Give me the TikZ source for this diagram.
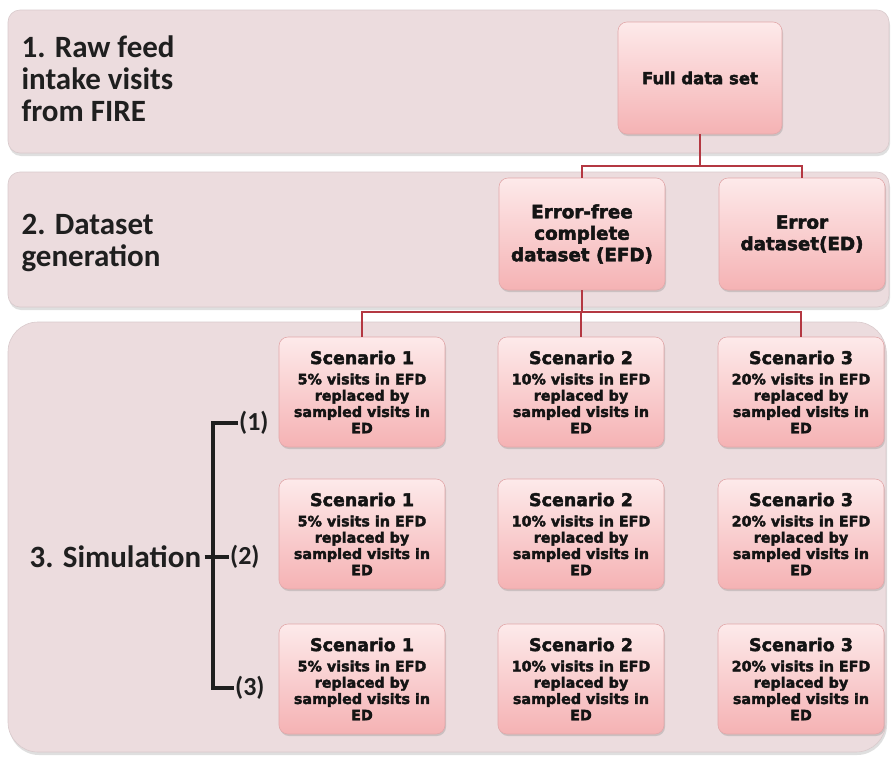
\documentclass[tikz,border=0pt]{standalone}
\usepackage{fontspec}
\newfontfamily\labelfont{Carlito}
\newfontfamily\boxfont{DejaVu Sans}[BoldFeatures={FakeBold=2.6}]
\usetikzlibrary{shadows}

\definecolor{panelfill}{RGB}{236,220,222}
\definecolor{boxtop}{RGB}{253,234,234}
\definecolor{boxbottom}{RGB}{245,178,180}
\definecolor{boxline}{RGB}{226,168,170}
\definecolor{linkred}{RGB}{180,56,66}

\tikzset{
  panel/.style={fill=panelfill, draw=panelfill!92!black, line width=0.6,
    drop shadow={shadow xshift=1pt, shadow yshift=-3pt, opacity=0.25}},
  stagelabel/.style={anchor=west, align=left, font=\labelfont\bfseries\fontsize{31}{32}\selectfont, text=black!88},
  datbox/.style={rounded corners=9, top color=boxtop, bottom color=boxbottom, draw=boxline,
    line width=0.6, align=center, minimum width=166, minimum height=112, inner sep=2,
    drop shadow={shadow xshift=1pt, shadow yshift=-2pt, opacity=0.3},
    font=\boxfont\bfseries\fontsize{18.3}{21.5}\selectfont, text=black!92},
  scenbox/.style={datbox, minimum height=110, font=\boxfont\bfseries\fontsize{14.3}{16.3}\selectfont},
  link/.style={linkred, line width=2},
  runlabel/.style={font=\labelfont\bfseries\fontsize{26}{28}\selectfont, inner sep=1, text=black!88},
  bracket/.style={black!88, line width=3.2}
}

\begin{document}
\begin{tikzpicture}[x=1pt, y=-1pt]
\useasboundingbox (0,0) rectangle (892,761);
\fill[white] (0,0) rectangle (892,761);

% stage panels
\draw[panel, rounded corners=12] (8,10) rectangle (889,153);
\draw[panel, rounded corners=12] (8,172) rectangle (889,307);
\draw[panel, rounded corners=30] (8,322) rectangle (886,752);

\node[stagelabel] (stage1) at (18,79) {1. Raw feed\\intake visits\\from FIRE};
\node[stagelabel] (stage2) at (18,243) {2. Dataset\\generation};
\node[stagelabel] (stage3) at (26,557) {3. Simulation};

% data sets
\node[datbox, minimum width=164] (full) at (700,78) {\fontsize{16.5}{20}\selectfont Full data set};
\node[datbox] (efd) at (582,234) {Error-free\\complete\\dataset (EFD)};
\node[datbox] (ed) at (802,234) {Error\\dataset(ED)};

% scenarios
\foreach \col/\x/\pct in {1/362/5, 2/581/10, 3/801/20}
  \foreach \row/\y in {1/392, 2/534, 3/679}
    \node[scenbox] (s\row\col) at (\x,\y)
      {{\fontsize{17.5}{20}\selectfont Scenario \col}\\[4pt]
       \pct\% visits in EFD\\replaced by\\sampled visits in\\ED};

% tree links
\draw[link] (full.south) -- ++(0,32) -| (efd.north);
\draw[link] (full.south) -- ++(0,32) -| (ed.north);
\foreach \col in {1,2,3}
  \draw[link] (efd.south) -- ++(0,22) -| (s1\col.north);

% simulation runs
\node[runlabel, anchor=west] (run1) at (238,423) {(1)};
\node[runlabel, anchor=west] (run2) at (229,557) {(2)};
\node[runlabel, anchor=west] (run3) at (234,688) {(3)};
\coordinate (btop) at (213,423);
\coordinate (bbot) at (213,688);
\draw[bracket] (run1.west) -- (btop) -- (bbot) -- (run3.west);
\draw[bracket] (stage3.east) -- (run2.west);
\end{tikzpicture}
\end{document}
